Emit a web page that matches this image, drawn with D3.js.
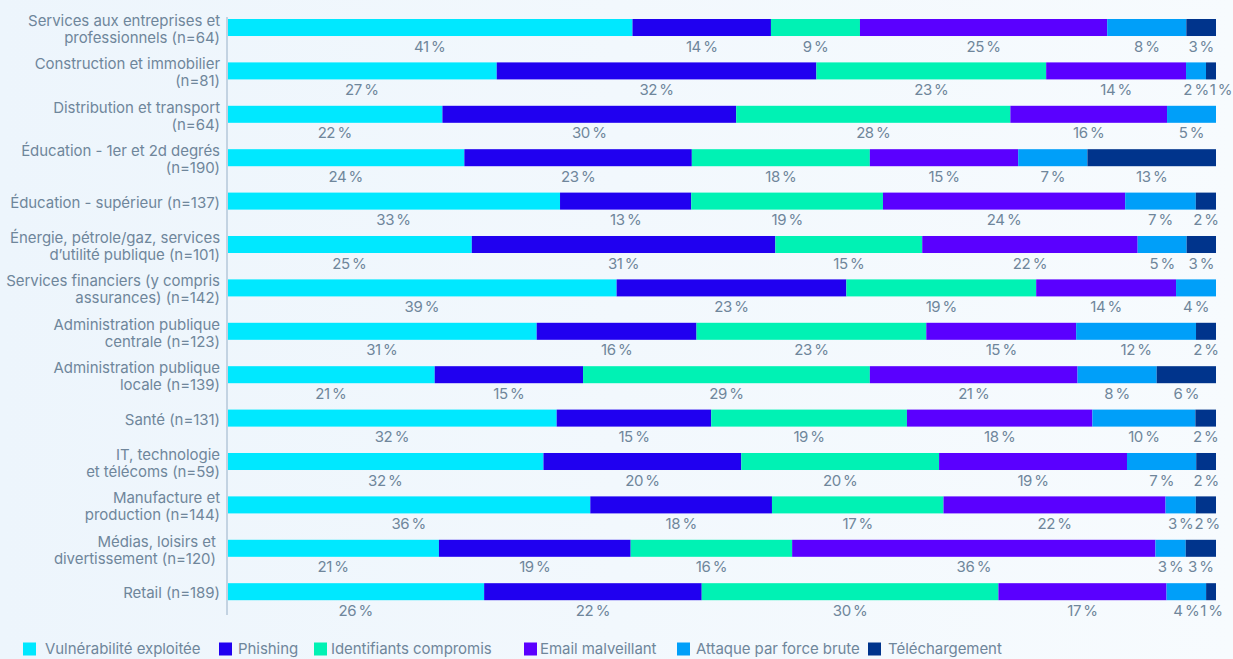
<!DOCTYPE html>
<html lang="fr">
<head>
<meta charset="utf-8">
<script src="https://cdn.jsdelivr.net/npm/d3@7"></script>
<style>
  html, body { margin: 0; padding: 0; }
  body { width: 1233px; height: 659px; overflow: hidden; }
  svg { display: block; font-family: Inter, "Noto Sans", sans-serif; }
</style>
</head>
<body>
<svg id="chart" width="1233" height="659"></svg>
<script>
// Sectors (label lines) and sample sizes
const sectors = [
  ["Services aux entreprises et", "professionnels (n=64)"],
  ["Construction et immobilier", "(n=81)"],
  ["Distribution et transport", "(n=64)"],
  ["Éducation - 1er et 2d degrés", "(n=190)"],
  ["Éducation - supérieur (n=137)"],
  ["Énergie, pétrole/gaz, services", "d’utilité publique (n=101)"],
  ["Services financiers (y compris", "assurances) (n=142)"],
  ["Administration publique", "centrale (n=123)"],
  ["Administration publique", "locale (n=139)"],
  ["Santé (n=131)"],
  ["IT, technologie", "et télécoms (n=59)"],
  ["Manufacture et", "production (n=144)"],
  ["Médias, loisirs et ", "divertissement (n=120) "],
  ["Retail (n=189)"]
];

const seriesNames = [
  "Vulnérabilité exploitée",
  "Phishing",
  "Identifiants compromis",
  "Email malveillant",
  "Attaque par force brute",
  "Téléchargement"
];

// Share (%) of each initial access vector, per sector
const vulnerabilite = [41, 27, 22, 24, 33, 25, 39, 31, 21, 32, 32, 36, 21, 26];
const phishing      = [14, 32, 30, 23, 13, 31, 23, 16, 15, 15, 20, 18, 19, 22];
const identifiants  = [ 9, 23, 28, 18, 19, 15, 19, 23, 29, 19, 20, 17, 16, 30];
const email         = [25, 14, 16, 15, 24, 22, 14, 15, 21, 18, 19, 22, 36, 17];
const forceBrute    = [ 8,  2,  5,  7,  7,  5,  4, 12,  8, 10,  7,  3,  3,  4];
const telechargement= [ 3,  1,  0, 13,  2,  3,  0,  2,  6,  2,  2,  2,  3,  1];

const colors = ["#00e8ff", "#2000f0", "#00f2b4", "#5a00ff", "#009ff9", "#00348c"];

const seriesValues = [vulnerabilite, phishing, identifiants, email, forceBrute, telechargement];

const rows = sectors.map((lines, i) => {
  const r = { key: i, lines };
  seriesNames.forEach((s, j) => { r[s] = seriesValues[j][i]; });
  return r;
});

const svg = d3.select("#chart");

// Background wash
const defs = svg.append("defs");
const grad = defs.append("linearGradient").attr("id", "bg").attr("x1", 0).attr("x2", 1).attr("y1", 0).attr("y2", 0);
grad.append("stop").attr("offset", "0%").attr("stop-color", "#edf5fc");
grad.append("stop").attr("offset", "100%").attr("stop-color", "#f7fbfe");
svg.append("rect").attr("width", 1233).attr("height", 659).attr("fill", "url(#bg)");

const x = d3.scaleLinear().domain([0, 1]).range([227, 1216]);
const y = d3.scaleBand()
  .domain(rows.map(d => d.key))
  .range([19, 600.2])
  .paddingInner(0.608)
  .paddingOuter(0);

const stack = d3.stack().keys(seriesNames).offset(d3.stackOffsetExpand);
const layers = stack(rows);

const textColor = "#6f869b";

// Bars
const g = svg.append("g");
layers.forEach((layer, j) => {
  g.append("g")
    .attr("fill", colors[j])
    .selectAll("rect")
    .data(layer.filter(d => d.data[seriesNames[j]] > 0))
    .join("rect")
    .attr("x", d => x(d[0]))
    .attr("y", d => y(d.data.key))
    .attr("width", d => Math.max(0, x(d[1]) - x(d[0])))
    .attr("height", y.bandwidth());
});

// Value labels under each segment, one group per row
const labelRows = g.append("g").selectAll("g")
  .data(rows.map((r, i) => layers
    .map((layer, j) => ({ seg: layer[i], value: r[seriesNames[j]] }))
    .filter(d => d.value > 0)))
  .join("g");

labelRows.each(function(items) {
  const row = d3.select(this);
  const texts = row.selectAll("text")
    .data(items)
    .join("text")
    .attr("x", d => (x(d.seg[0]) + x(d.seg[1])) / 2)
    .attr("y", d => y(d.seg.data.key) + y.bandwidth() + 15.5)
    .attr("text-anchor", "middle")
    .attr("fill", textColor)
    .attr("font-size", 15)
    .attr("letter-spacing", "-0.4")
    .text(d => d.value + "\u2009%");
  // push labels right when they would collide with their left neighbour
  let prevEnd = -Infinity;
  texts.each(function() {
    const t = d3.select(this);
    const w = this.getComputedTextLength();
    let cx = +t.attr("x");
    if (cx - w / 2 < prevEnd + 1) cx = prevEnd + 1 + w / 2;
    t.attr("x", cx);
    prevEnd = cx + w / 2;
  });
});

// Category axis line
svg.append("line")
  .attr("x1", 227).attr("x2", 227)
  .attr("y1", 17).attr("y2", 615)
  .attr("stroke", "#c3d3e2").attr("stroke-width", 2);

// Category labels
const lab = svg.append("g").selectAll("text")
  .data(rows)
  .join("text")
  .attr("text-anchor", "end")
  .attr("fill", textColor)
  .attr("font-size", 15)
  .attr("letter-spacing", "-0.05")
  .attr("transform", d => {
    const cy = y(d.key) + y.bandwidth() / 2 + 1.5;
    const top = cy - (d.lines.length - 1) * 17 / 2;
    return `translate(220,${top})`;
  });
lab.selectAll("tspan")
  .data(d => d.lines)
  .join("tspan")
  .attr("x", 0)
  .attr("dy", (d, i) => i === 0 ? "0.35em" : 17)
  .attr("xml:space", "preserve")
  .text(d => d);

// Legend
const legendX = [23, 219, 314, 524, 677, 868];
const legendGap = [22, 19, 17, 16, 19, 20];
const legend = svg.append("g").selectAll("g")
  .data(seriesNames)
  .join("g")
  .attr("transform", (d, i) => `translate(${legendX[i]},649)`);
legend.append("rect")
  .attr("x", 0).attr("y", -6.5)
  .attr("width", 13).attr("height", 13)
  .attr("fill", (d, i) => colors[i]);
legend.append("text")
  .attr("x", (d, i) => legendGap[i]).attr("y", 0)
  .attr("dy", "0.35em")
  .attr("fill", textColor)
  .attr("font-size", 15)
  .attr("letter-spacing", "-0.05")
  .text(d => d);
</script>
</body>
</html>
